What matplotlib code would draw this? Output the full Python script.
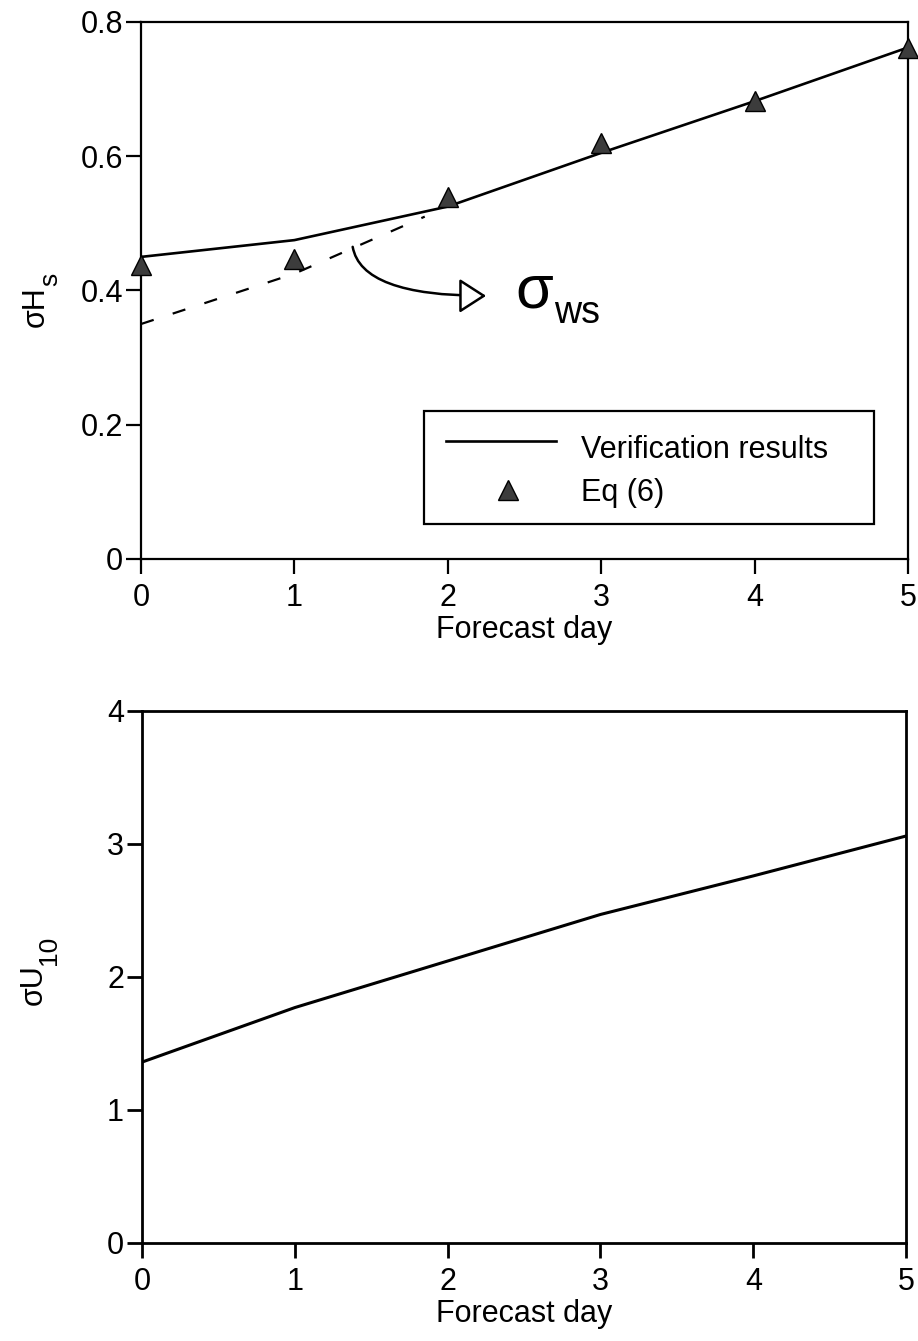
import matplotlib
matplotlib.use("Agg")
import matplotlib.pyplot as plt
from matplotlib.patches import Rectangle

plt.rcParams['font.family'] = ['Liberation Sans', 'DejaVu Sans']

# ---- data ----
days = [0, 1, 2, 3, 4, 5]
hs_verification = [0.45, 0.475, 0.525, 0.605, 0.682, 0.762]
hs_eq6 = [0.438, 0.447, 0.539, 0.620, 0.682, 0.761]
ws_days = [0, 1, 1.85]
ws_sigma = [0.35, 0.425, 0.51]
u10_verification = [1.36, 1.77, 2.12, 2.47, 2.76, 3.06]

hs_yticks = [0, 0.2, 0.4, 0.6, 0.8]
hs_yticklabels = ['0', '0.2', '0.4', '0.6', '0.8']
u10_yticks = [0, 1, 2, 3, 4]
legend_labels = ['Verification results', 'Eq (6)']

FS = 22
fig = plt.figure(figsize=(9.18, 13.41), dpi=100)

ax1 = fig.add_axes([0.1536, 0.5832, 0.989 - 0.1536, 0.9836 - 0.5832])
ax2 = fig.add_axes([0.1547, 0.0731, 0.987 - 0.1547, 0.4698 - 0.0731])

for ax, lw in ((ax1, 1.6), (ax2, 2.0)):
    for s in ax.spines.values():
        s.set_linewidth(lw)
    ax.tick_params(axis='both', direction='out', length=11, width=lw,
                   labelsize=FS, pad=2, top=False, right=False)
    ax.tick_params(axis='x', pad=6)
    ax.set_xlim(0, 5)
    ax.set_xticks(days)
    ax.set_xlabel('Forecast day', fontsize=FS, labelpad=2)

# ---- top panel ----
ax1.set_ylim(0, 0.8)
ax1.set_yticks(hs_yticks)
ax1.set_yticklabels(hs_yticklabels)
ax1.plot(days, hs_verification, color='black', lw=1.9, zorder=3)
ax1.plot(ws_days, ws_sigma, color='black', lw=1.6, dashes=(6, 9), zorder=3)
ax1.plot(days, hs_eq6, linestyle='none', marker='^', ms=14, mfc='#3c3c3c',
         mec='black', mew=1.0, zorder=4, clip_on=False)
ax1.set_ylabel('σH', fontsize=FS)
ax1.yaxis.set_label_coords(-0.118, 0.47)
ax1.annotate('s', xy=(1.0, 1.0), xycoords=ax1.yaxis.label, rotation=90,
             ha='center', va='bottom', fontsize=19)

# handwritten annotation
ax1.annotate('', xy=(2.25, 0.392), xytext=(1.38, 0.465),
             arrowprops=dict(arrowstyle='-|>,head_length=0.7,head_width=0.45',
                             connectionstyle='angle3,angleA=-80,angleB=0',
                             mutation_scale=24,
                             fc='white', ec='black', lw=1.8,
                             shrinkA=0, shrinkB=0))
sig = ax1.text(2.44, 0.375, 'σ', fontsize=44, va='baseline', ha='left')
ax1.annotate('ws', xy=(1.0, 0.0), xycoords=sig, xytext=(1, -8),
             textcoords='offset points', fontsize=27, va='bottom', ha='left')

# legend box
ax1.add_patch(Rectangle((1.846, 0.052), 4.78 - 1.846, 0.220 - 0.052,
                        fill=False, ec='black', lw=1.6, zorder=5))
ax1.plot([1.99, 2.705], [0.176, 0.176], color='black', lw=1.9, zorder=5)
ax1.plot([2.39], [0.102], linestyle='none', marker='^', ms=14, mfc='#3c3c3c',
         mec='black', mew=1.0, zorder=5)
ax1.text(2.87, 0.163, legend_labels[0], fontsize=FS, va='center', ha='left')
ax1.text(2.87, 0.098, legend_labels[1], fontsize=FS, va='center', ha='left')

# ---- bottom panel ----
ax2.set_ylim(0, 4)
ax2.set_yticks(u10_yticks)
ax2.plot(days, u10_verification, color='black', lw=2.2)
ax2.set_ylabel('σU', fontsize=FS)
ax2.yaxis.set_label_coords(-0.122, 0.485)
ax2.annotate('10', xy=(1.0, 1.0), xycoords=ax2.yaxis.label, rotation=90,
             ha='center', va='bottom', fontsize=19)

fig.savefig('out.png', dpi=100)
